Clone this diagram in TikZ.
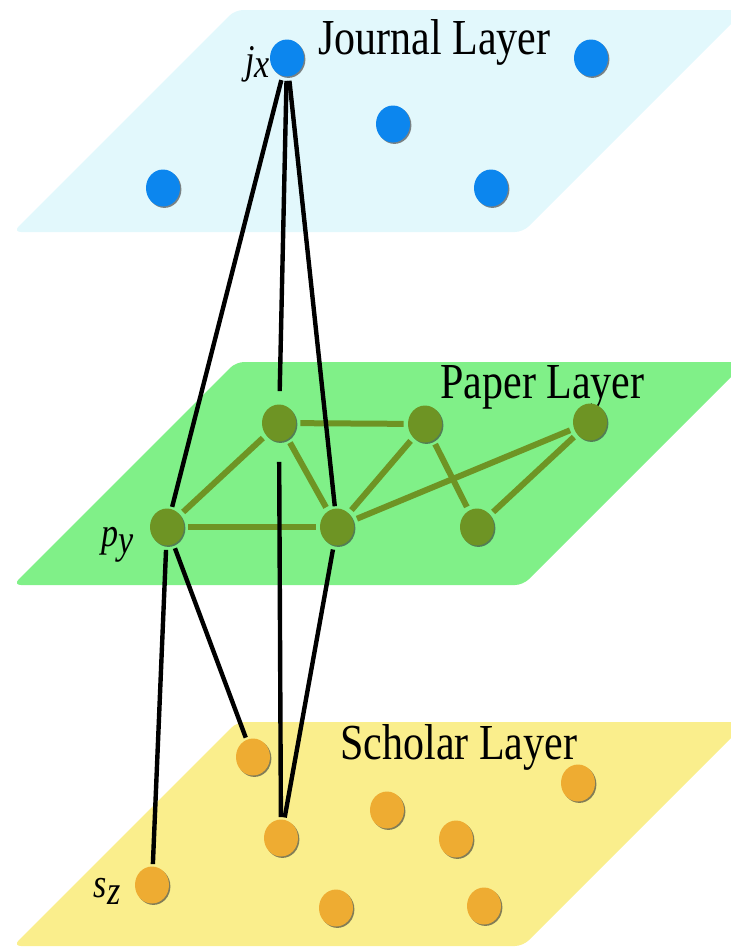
\documentclass[tikz,border=0pt]{standalone}
\usepackage{fontspec}
\setmainfont{Liberation Serif}
\usetikzlibrary{shapes.geometric,shadows}

\definecolor{jsheet}{RGB}{226,248,252}
\definecolor{psheet}{RGB}{128,240,136}
\definecolor{ssheet}{RGB}{250,238,140}
\definecolor{jblue}{RGB}{12,134,238}
\definecolor{polive}{RGB}{110,148,36}
\definecolor{sorange}{RGB}{238,172,50}

\newcommand{\tallword}[1]{\scalebox{1}[1.2]{#1}}

\begin{document}
\begin{tikzpicture}[x=0.5pt, y=-0.5pt,
  sheet/.style={rounded corners=4pt},
  vtx/.style={ellipse, minimum width=17pt, minimum height=18.5pt, inner sep=0pt,
              drop shadow={shadow xshift=0.7pt, shadow yshift=-0.7pt, opacity=0.6, fill=black!80}},
  jnode/.style={vtx, fill=jblue},
  pnode/.style={vtx, fill=polive},
  snode/.style={vtx, fill=sorange},
  tie/.style={line width=2.2pt, black, shorten <=2pt, shorten >=1pt},
  cite/.style={line width=3pt, polive, shorten <=2pt, shorten >=2pt},
  title/.style={font=\fontsize{21}{21}\selectfont, anchor=base west, inner sep=0pt},
  sym/.style={font=\fontsize{17}{17}\selectfont\itshape, inner sep=0pt},
]
  \useasboundingbox (0,0) rectangle (731,949);
  \clip (0,0) rectangle (731,949);

  % the three layers
  \fill[sheet, jsheet] (13,232) -- (235,10)  -- (745,10)  -- (523,232) -- cycle;
  \fill[sheet, psheet] (13,585) -- (236,362) -- (746,362) -- (523,585) -- cycle;
  \fill[sheet, ssheet] (13,946) -- (237,722) -- (747,722) -- (523,946) -- cycle;

  \node[title] (jtitle) at (318,54)  {\tallword{Journal Layer}};
  \node[title] (ptitle) at (440,398) {\tallword{Paper Layer}};
  \node[title] (stitle) at (340,759) {\tallword{Scholar Layer}};

  % journals
  \node[jnode] (jx) at (287,58)  {};
  \node[jnode] (j2) at (591,58)  {};
  \node[jnode] (j3) at (393,124) {};
  \node[jnode] (j4) at (163,188) {};
  \node[jnode] (j5) at (491,188) {};

  % papers
  \node[pnode] (p1) at (279,423) {};
  \node[pnode] (p2) at (425,424) {};
  \node[pnode] (p3) at (590,422) {};
  \node[pnode] (py) at (167,527) {};
  \node[pnode] (p5) at (337,527) {};
  \node[pnode] (p6) at (477,527) {};

  % scholars
  \node[snode] (s1) at (253,757) {};
  \node[snode] (s2) at (578,783) {};
  \node[snode] (s3) at (387,810) {};
  \node[snode] (s4) at (281,838) {};
  \node[snode] (s5) at (456,839) {};
  \node[snode] (sz) at (152,885) {};
  \node[snode] (s6) at (336,908) {};
  \node[snode] (s7) at (484,906) {};

  \node[sym, anchor=east] (jxlbl) at (270,64) {\tallword{j\raisebox{-2pt}{x}}};
  \node[sym] (pylbl) at (118,545) {\tallword{p\raisebox{-3pt}{y}}};
  \node[sym] (szlbl) at (107,891) {\tallword{s\raisebox{-3pt}{z}}};

  % citations inside the paper layer
  \draw[cite] (p1) -- (p2);
  \draw[cite] (p1) -- (py);
  \draw[cite] (p1) -- (p5);
  \draw[cite] (p2) -- (p5);
  \draw[cite] (p2) -- (p6);
  \draw[cite] (p3) -- (p5);
  \draw[cite] (p3) -- (p6);
  \draw[cite] (py) -- (p5);

  % links between layers
  \draw[tie] (jx) -- (py);
  \draw[tie, shorten >=6.5pt] (jx) -- (p1);
  \draw[tie] (jx) -- (p5);
  \draw[tie] (py) -- (sz);
  \draw[tie] (py) -- (s1);
  \draw[tie, shorten <=10pt] (p1) -- (s4);
  \draw[tie] (p5) -- (s4);
\end{tikzpicture}
\end{document}
